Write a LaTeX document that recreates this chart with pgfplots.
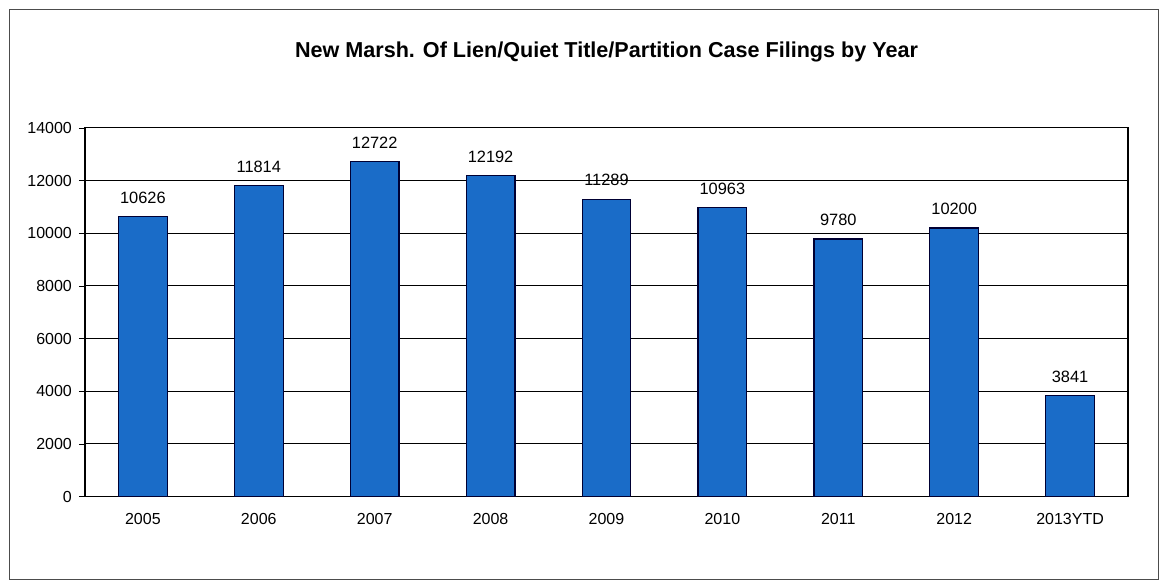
\documentclass[border=0pt]{standalone}
\usepackage{pgfplots}
\pgfplotsset{compat=1.18}
\usepackage{fontspec}
\setmainfont{Liberation Sans}
\definecolor{barblue}{RGB}{26,108,200}
\begin{document}
\begin{tikzpicture}
\begin{axis}[
  scale only axis,
  width=522pt, height=184.5pt,
  xmin=-0.5, xmax=8.5,
  ymin=0, ymax=14000,
  ytick={0,2000,...,14000},
  xtick={0,...,8},
  xtick pos=lower, ytick pos=left,
  xticklabels={2005,2006,2007,2008,2009,2010,2011,2012,2013YTD},
  x tick label style={font=\fontsize{8}{9}\selectfont, yshift=-2pt},
  y tick label style={font=\fontsize{8}{9}\selectfont},
  /pgf/number format/assume math mode=true,
  /pgf/number format/1000 sep={},
  scaled y ticks=false,
  ymajorgrids,
  grid style={black, line width=0.5pt},
  axis line style={black, line width=0.6pt},
  xtick style={draw=none},
  ytick style={black},
  tick align=outside,
  major tick length=3pt,
  extra x ticks={-0.5,0.5,...,8.5},
  extra x tick labels={},
  extra x tick style={tick style={black, draw=black}, major tick length=4pt, grid=none},
  title={\bfseries New Marsh. Of Lien/Quiet Title/Partition Case Filings by Year},
  title style={font=\fontsize{10.8}{13}\selectfont, yshift=23.5pt},
  ybar, bar width=0.42,
  nodes near coords,
  every node near coord/.append style={font=\fontsize{8.2}{9}\selectfont, yshift=3pt},
  clip=false,
]
\addplot[fill=barblue, draw=black!80!blue, line width=0.6pt]
 coordinates {(0,10626) (1,11814) (2,12722) (3,12192) (4,11289) (5,10963) (6,9780) (7,10200) (8,3841)};
\end{axis}
\draw[black!70, line width=0.5pt] ([xshift=-37.5pt,yshift=-41.5pt]current axis.south west) rectangle ([xshift=15pt,yshift=59pt]current axis.north east);
\path ([xshift=-42.5pt,yshift=-45pt]current axis.south west) rectangle ([xshift=20pt,yshift=64pt]current axis.north east);
\end{tikzpicture}
\end{document}
